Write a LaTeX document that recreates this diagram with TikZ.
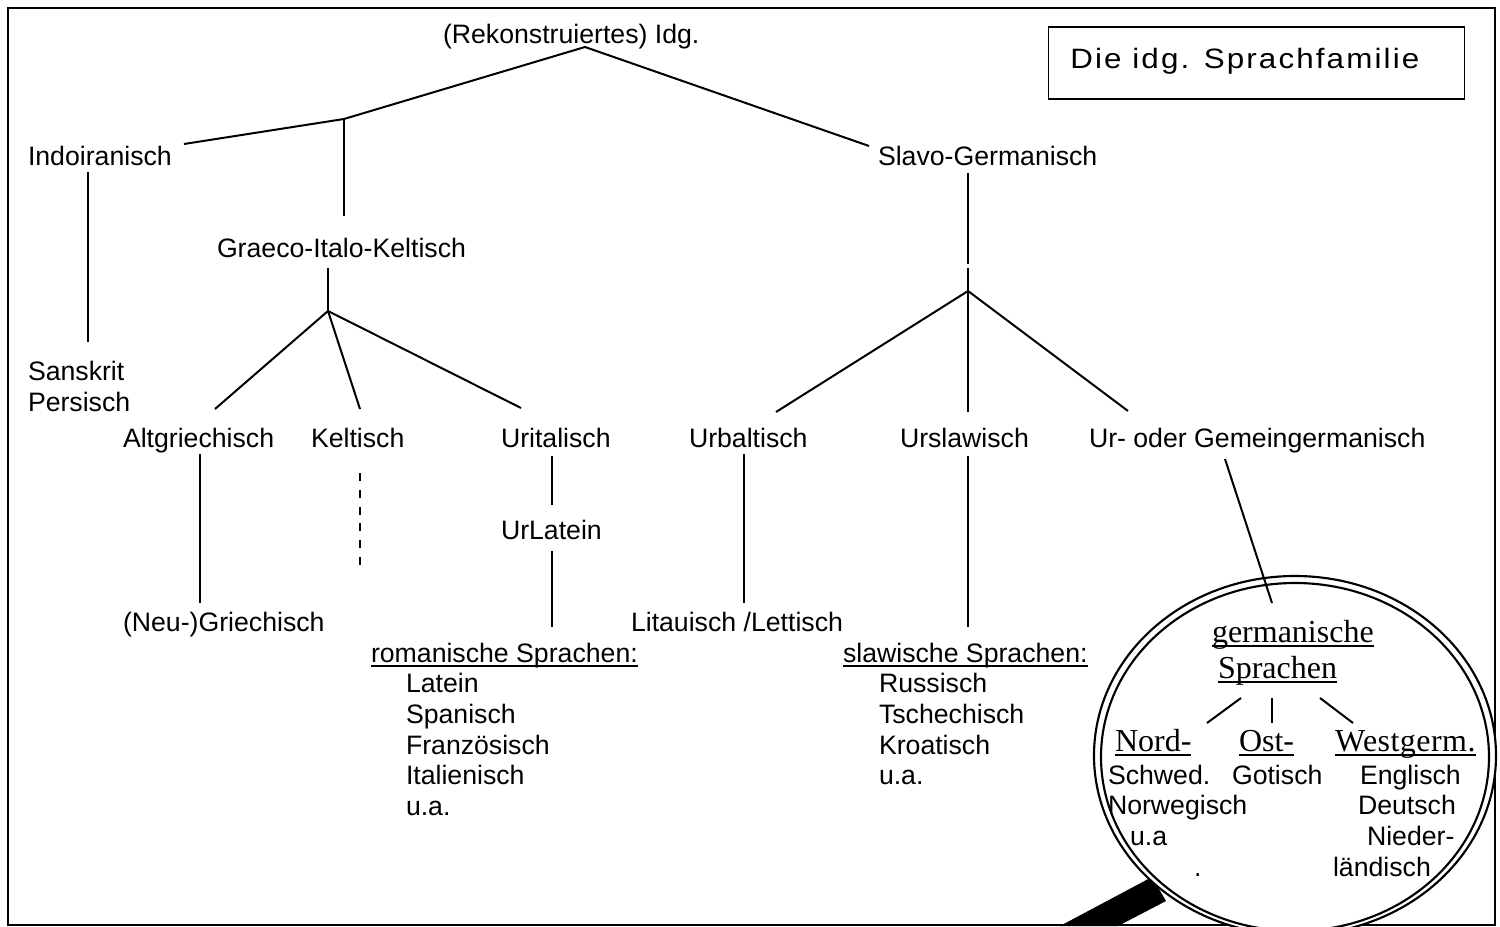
\documentclass[tikz,border=0pt]{standalone}
\usepackage{fontspec}
\setmainfont{Liberation Sans}
\newfontfamily\serifa{Liberation Serif}
\newfontfamily\serifw[LetterSpace=1.4]{Liberation Serif}
\newfontfamily\titlef[LetterSpace=7.6,FakeStretch=1.12]{Liberation Sans}
\newsavebox{\ulbox}
\newcommand{\ulin}[1]{\sbox{\ulbox}{#1}\rlap{\vrule width\wd\ulbox height -2.6pt depth 4pt}\usebox{\ulbox}}
\tikzset{
 x=0.75pt,y=-0.75pt,
 lab/.style={anchor=base west,inner sep=0pt,outer sep=0pt,font=\fontsize{20}{24}\selectfont},
 ser/.style={anchor=base west,inner sep=0pt,outer sep=0pt,font=\serifa\fontsize{24}{28}\selectfont},
 conn/.style={line width=1.5pt,line cap=butt},
 ring/.style={line width=1.6pt},
}
\begin{document}
\begin{tikzpicture}
\useasboundingbox (0,0) rectangle (1500,927);
\fill[white] (0,0) rectangle (1500,927);
\draw[line width=1.4pt] (8,8) rectangle (1495,925);
\node[draw,line width=1.4pt,minimum width=312pt,minimum height=54pt,inner sep=0pt,anchor=north west] (titlebox) at (1047.5,26) {};
\node[anchor=base west,inner sep=0pt,font=\titlef\fontsize{21}{24}\selectfont] (title) at (1070,69) {Die idg. Sprachfamilie};
% labels
\node[lab] (idg) at (443,44) {(Rekonstruiertes) Idg.};
\node[lab] (indo) at (28,166) {Indoiranisch};
\node[lab] (slavo) at (878,166) {Slavo-Germanisch};
\node[lab] (graeco) at (217,258) {Graeco-Italo-Keltisch};
\node[lab] (sans) at (28,381) {Sanskrit};
\node[lab] (pers) at (28,411.6) {Persisch};
\node[lab] (altg) at (123,447) {Altgriechisch};
\node[lab] (kelt) at (311,447) {Keltisch};
\node[lab] (urit) at (501,447) {Uritalisch};
\node[lab] (urba) at (689,447) {Urbaltisch};
\node[lab] (ursl) at (900,447) {Urslawisch};
\node[lab] (urge) at (1089,447) {Ur- oder Gemeingermanisch};
\node[lab] (urla) at (501,539) {UrLatein};
\node[lab] (neug) at (123,631) {(Neu-)Griechisch};
\node[lab] (lita) at (631,631) {Litauisch /Lettisch};
\node[lab] (roman) at (371,662) {\ulin{romanische Sprachen:}};
\node[lab] (lat) at (406,692) {Latein};
\node[lab] (spa) at (406,723) {Spanisch};
\node[lab] (fra) at (406,754) {Französisch};
\node[lab] (ita) at (406,784) {Italienisch};
\node[lab] (ua1) at (406,815.4) {u.a.};
\node[lab] (slaw) at (843,662) {\ulin{slawische Sprachen:}};
\node[lab] (rus) at (879,692) {Russisch};
\node[lab] (tsch) at (879,723) {Tschechisch};
\node[lab] (kro) at (879,754) {Kroatisch};
\node[lab] (ua2) at (879,784) {u.a.};
% junctions and line ends
\coordinate (j0) at (585,47);
\coordinate (j0r) at (869,146);
\coordinate (j1) at (344,119);
\coordinate (j1l) at (184,144);
\coordinate (j1b) at (344,216);
\coordinate (in1) at (88,172);
\coordinate (in2) at (88,342);
\coordinate (j2t) at (328,268);
\coordinate (j2) at (328,311);
\coordinate (j2a) at (215,409);
\coordinate (j2b) at (360,409);
\coordinate (j2c) at (521,408);
\coordinate (g1) at (200,454);
\coordinate (g2) at (200,603);
\coordinate (k1) at (360,473);
\coordinate (k2) at (360,565);
\coordinate (i1) at (552,456);
\coordinate (i2) at (552,505);
\coordinate (l1) at (552,551);
\coordinate (l2) at (552,627);
\coordinate (b1) at (744,454);
\coordinate (b2) at (744,603);
\coordinate (s1) at (968,173);
\coordinate (s2) at (968,264);
\coordinate (s3) at (968,268);
\coordinate (j3) at (968,291);
\coordinate (j3a) at (776,412);
\coordinate (j3b) at (968,412);
\coordinate (j3c) at (1128,411);
\coordinate (u1) at (968,456);
\coordinate (u2) at (968,627);
\coordinate (w1) at (1225,459);
\coordinate (w2) at (1272,603);
% connectors
\draw[conn] (j1l) -- (j1) -- (j0) -- (j0r);
\draw[conn] (j1) -- (j1b);
\draw[conn] (in1) -- (in2);
\draw[conn] (j2t) -- (j2);
\draw[conn] (j2a) -- (j2) -- (j2c);
\draw[conn] (j2) -- (j2b);
\draw[conn] (g1) -- (g2);
\draw[conn,dash pattern=on 6pt off 6.6pt] (k1) -- (k2);
\draw[conn] (i1) -- (i2);
\draw[conn] (l1) -- (l2);
\draw[conn] (b1) -- (b2);
\draw[conn] (s1) -- (s2);
\draw[conn] (s3) -- (j3);
\draw[conn] (j3a) -- (j3) -- (j3c);
\draw[conn] (j3) -- (j3b);
\draw[conn] (u1) -- (u2);
% magnifier
\fill[black] (1060,926) -- (1118,926) -- (1166,901) -- (1152,877) -- cycle;
\begin{scope}
\clip (0,0) rectangle (1500,927);
\draw[ring,fill=white] (1295,755.5) ellipse [x radius=201,y radius=179.5];
\draw[ring] (1295,757) ellipse [x radius=194,y radius=174];
\end{scope}
\draw[conn] (w1) -- (w2);
\node[ser] (germ) at (1212,642) {\ulin{germanische}};
\node[ser] (spr) at (1218,678) {\ulin{Sprachen}};
\coordinate (m1) at (1241,698);
\coordinate (m2) at (1207,723);
\coordinate (m3) at (1272,698);
\coordinate (m4) at (1272,723);
\coordinate (m5) at (1320,698);
\coordinate (m6) at (1353,723);
\draw[conn] (m1) -- (m2);
\draw[conn] (m3) -- (m4);
\draw[conn] (m5) -- (m6);
\node[ser] (nord) at (1115,751) {\ulin{Nord-}};
\node[ser] (ost) at (1239,751) {\ulin{Ost-}};
\node[ser,font=\serifw\fontsize{24}{28}\selectfont] (west) at (1335,751) {\ulin{Westgerm.}};
\node[lab] (schw) at (1108,784) {Schwed.};
\node[lab] (got) at (1232,784) {Gotisch};
\node[lab] (eng) at (1360,784) {Englisch};
\node[lab] (nor) at (1108,814) {Norwegisch};
\node[lab] (deu) at (1358,814) {Deutsch};
\node[lab] (uag) at (1130,845) {u.a};
\node[lab] (nie) at (1367,845) {Nieder-};
\node[lab] (dot) at (1194,876) {.};
\node[lab] (lae) at (1333,876) {ländisch};
\end{tikzpicture}
\end{document}
